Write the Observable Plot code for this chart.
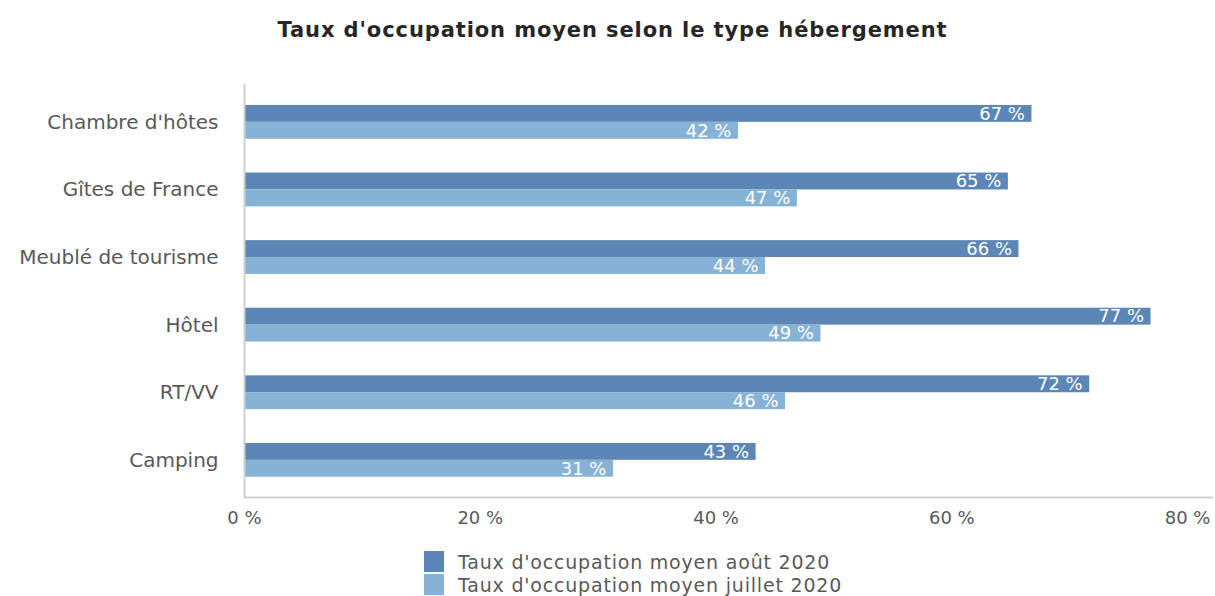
<!DOCTYPE html>
<html>
<head>
<meta charset="utf-8">
<script src="https://cdn.jsdelivr.net/npm/d3@7"></script>
<script src="https://cdn.jsdelivr.net/npm/@observablehq/plot@0.6"></script>
<style>
  html, body { margin: 0; padding: 0; background: #fff; }
  body { width: 1215px; height: 596px; overflow: hidden; font-family: "DejaVu Sans", sans-serif; }
  #title { height: 60px; line-height: 60px; text-align: center; padding-left: 10px; font-weight: bold; font-size: 21px; letter-spacing: 0.9px; color: #262626; }
  #legend { position: relative; padding-left: 424px; padding-top: 10px; font-size: 19px; letter-spacing: 0.8px; color: #595959; }
  .item { display: flex; align-items: center; height: 23px; }
  .sw { width: 20px; height: 21px; margin-right: 14px; }
</style>
</head>
<body>
<div id="title">Taux d'occupation moyen selon le type hébergement</div>
<div id="chart"></div>
<div id="legend"></div>
<script>
const categories = ["Chambre d'hôtes", "Gîtes de France", "Meublé de tourisme", "Hôtel", "RT/VV", "Camping"];
const seriesNames = ["Taux d'occupation moyen août 2020", "Taux d'occupation moyen juillet 2020"];
const aout2020 = [66.8, 64.8, 65.7, 76.9, 71.7, 43.4];
const juillet2020 = [41.9, 46.9, 44.2, 48.9, 45.9, 31.3];
const xTicks = [0, 20, 40, 60, 80];
const colors = ["#5b86b6", "#85b2d5"];

const half = 0.25;
const rows = [];
categories.forEach((c, i) => {
  rows.push({cat: c, idx: i, series: seriesNames[0], value: aout2020[i], y1: i - half, y2: i});
  rows.push({cat: c, idx: i, series: seriesNames[1], value: juillet2020[i], y1: i, y2: i + half});
});
rows.forEach(r => r.ym = (r.y1 + r.y2) / 2);

const chart = Plot.plot({
  width: 1215,
  height: 480,
  marginLeft: 244,
  marginRight: 2,
  marginTop: 24,
  marginBottom: 43,
  style: {fontFamily: "DejaVu Sans, sans-serif", fontSize: "18px", color: "#595959", background: "white"},
  x: {domain: [0, 82.2], axis: null, label: null},
  y: {domain: [-0.56, 5.55], reverse: true, axis: null, label: null},
  color: {domain: seriesNames, range: colors},
  marks: [
    Plot.rect(rows, {x1: 0, x2: "value", y1: "y1", y2: "y2", fill: "series"}),
    Plot.text(rows, {x: "value", y: "ym", text: d => Math.round(d.value) + " %", textAnchor: "end", dx: -7, fill: "white", fontSize: 18}),
    Plot.ruleX([0], {stroke: "#d0d0d0", strokeWidth: 2}),
    Plot.ruleY([5.55], {stroke: "#d0d0d0", strokeWidth: 2}),
    Plot.axisX({ticks: xTicks, tickFormat: d => d + " %", tickSize: 0, tickPadding: 14, fontSize: 18, fill: "#595959", label: null}),
    Plot.axisY({ticks: d3.range(categories.length), tickFormat: i => categories[i], tickSize: 0, tickPadding: 26, fontSize: 20, letterSpacing: 1.5, fill: "#595959", label: null})
  ]
});
document.getElementById("chart").appendChild(chart);

const legend = document.getElementById("legend");
seriesNames.forEach((s, i) => {
  const it = document.createElement("div");
  it.className = "item";
  const sw = document.createElement("div");
  sw.className = "sw";
  sw.style.background = colors[i];
  const t = document.createElement("span");
  t.textContent = s;
  it.appendChild(sw); it.appendChild(t);
  legend.appendChild(it);
});
</script>
</body>
</html>
